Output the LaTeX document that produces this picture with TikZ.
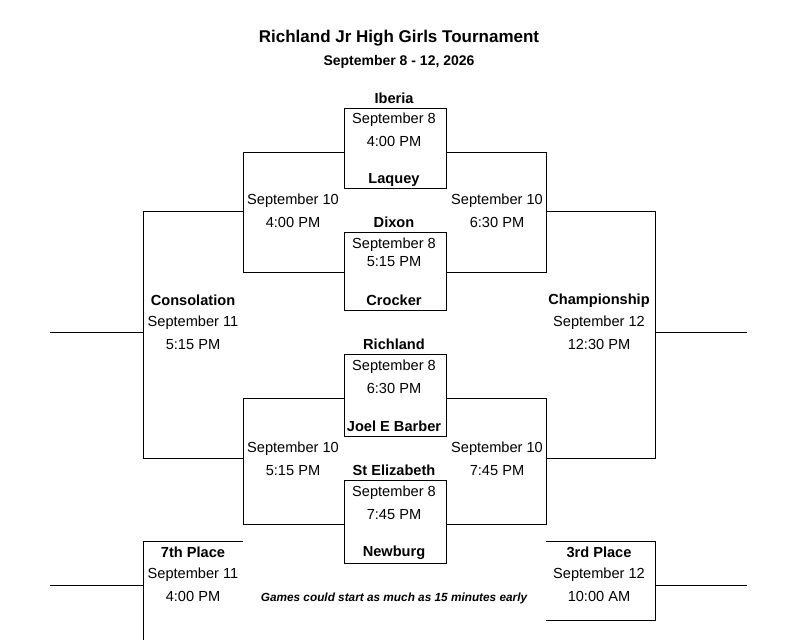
\documentclass[tikz,border=0pt]{standalone}
\usepackage{fontspec}
\setmainfont{Liberation Sans}
\begin{document}
\begin{tikzpicture}[x=1pt,y=-1pt,
  txt/.style={inner sep=0pt,font=\fontsize{14.6}{14}\selectfont,anchor=center,yshift=-1.5pt},
  team/.style={txt,font=\fontsize{14.6}{14}\selectfont\bfseries},
  box/.style={draw,line width=0.8pt,minimum width=102pt,inner sep=0pt},
  ln/.style={line width=0.8pt}]
\useasboundingbox (0,0) rectangle (789,640);
\node[txt,font=\fontsize{17}{16}\selectfont\bfseries] (title) at (399,37) {Richland Jr High Girls Tournament};
\node[txt,font=\fontsize{14}{13}\selectfont\bfseries] (sub) at (399,60) {September 8 - 12, 2026};
% game boxes
\node[box,minimum height=80pt] (g1) at (395,148) {};
\node[box,minimum height=78pt] (g2) at (395,271) {};
\node[box,minimum height=82pt] (g3) at (395,395) {};
\node[box,minimum height=83pt] (g4) at (395,521.5) {};
% texts
\node[team] (t1) at (394,97) {Iberia};
\node[txt] (d1) at (394,118) {September 8};
\node[txt] (h1) at (394,140) {4:00 PM};
\node[team] (t2) at (394,178) {Laquey};
\node[team] (t3) at (394,221) {Dixon};
\node[txt] (d2) at (394,243) {September 8};
\node[txt] (h2) at (394,260) {5:15 PM};
\node[team] (t4) at (394,299) {Crocker};
\node[team] (t5) at (394,343) {Richland};
\node[txt] (d3) at (394,365) {September 8};
\node[txt] (h3) at (394,387) {6:30 PM};
\node[team] (t6) at (394,425) {Joel E Barber};
\node[team] (t7) at (394,469) {St Elizabeth};
\node[txt] (d4) at (394,491) {September 8};
\node[txt] (h4) at (394,513) {7:45 PM};
\node[team] (t8) at (394,551) {Newburg};
\node[txt] (sl1d) at (293,199) {September 10};
\node[txt] (sl1h) at (293,221) {4:00 PM};
\node[txt] (sr1d) at (497,199) {September 10};
\node[txt] (sr1h) at (497,221) {6:30 PM};
\node[txt] (sl2d) at (293,447) {September 10};
\node[txt] (sl2h) at (293,469) {5:15 PM};
\node[txt] (sr2d) at (497,447) {September 10};
\node[txt] (sr2h) at (497,469) {7:45 PM};
\node[team] (cons) at (193,299) {Consolation};
\node[txt] (consd) at (193,321) {September 11};
\node[txt] (consh) at (193,343) {5:15 PM};
\node[team] (champ) at (599,299) {Championship};
\node[txt] (champd) at (599,321) {September 12};
\node[txt] (champh) at (599,343) {12:30 PM};
\node[team] (sev) at (193,551) {7th Place};
\node[txt] (sevd) at (193,573) {September 11};
\node[txt] (sevh) at (193,595) {4:00 PM};
\node[team] (thr) at (599,551) {3rd Place};
\node[txt] (thrd) at (599,573) {September 12};
\node[txt] (thrh) at (599,595) {10:00 AM};
\node[txt,font=\fontsize{11.8}{11}\selectfont\bfseries\itshape] (note) at (394,597) {Games could start as much as 15 minutes early};
% bracket lines
\draw[ln] (g1.west |- 0,152) -- (243,152) -- (243,272) -- (g2.west |- 0,272);
\draw[ln] (g1.east |- 0,152) -- (546,152) -- (546,272) -- (g2.east |- 0,272);
\draw[ln] (g3.west |- 0,398) -- (243,398) -- (243,524) -- (g4.west |- 0,524);
\draw[ln] (g3.east |- 0,398) -- (546,398) -- (546,524) -- (g4.east |- 0,524);
\draw[ln] (243,211) -- (143,211) -- (143,458) -- (243,458);
\draw[ln] (546,211) -- (655,211) -- (655,458) -- (546,458);
\draw[ln] (143,332) -- (50,332);
\draw[ln] (655,332) -- (747,332);
\draw[ln] (243,541) -- (143,541) -- (143,640);
\draw[ln] (143,585) -- (50,585);
\draw[ln] (546,541) -- (655,541) -- (655,620) -- (546,620);
\draw[ln] (655,585) -- (747,585);
\end{tikzpicture}
\end{document}
